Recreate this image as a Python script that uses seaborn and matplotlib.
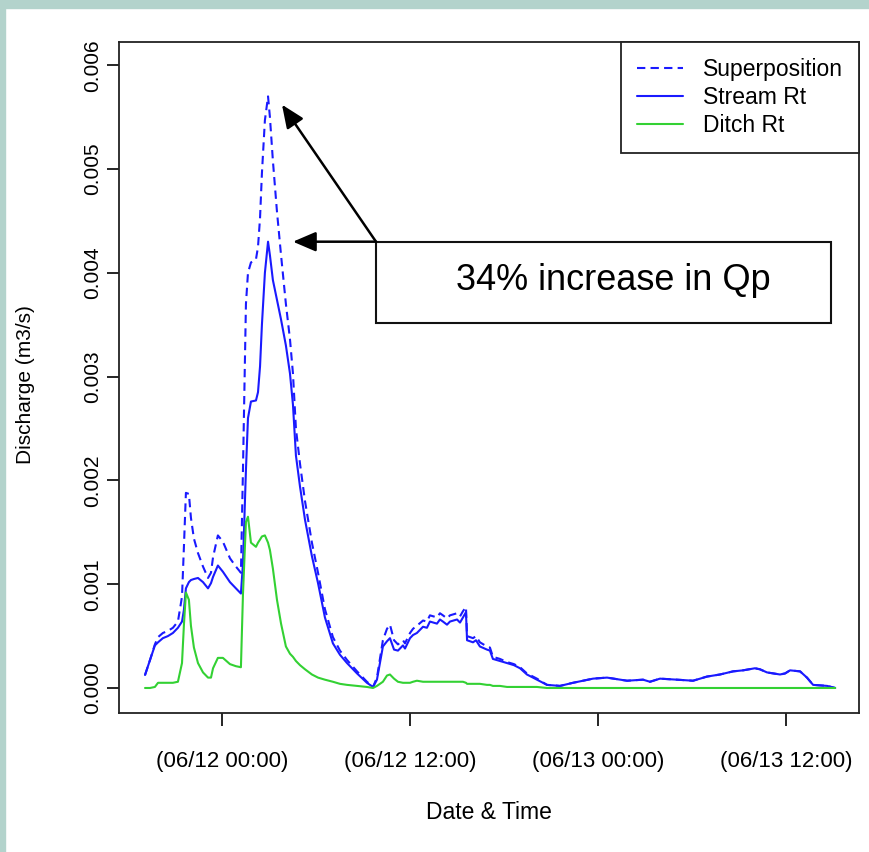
import numpy as np
import pandas as pd
import seaborn as sns
import matplotlib.pyplot as plt
from matplotlib.patches import Rectangle

# hours relative to 06/12 00:00
hours = [-4.91, -4.59, -4.28, -4.08, -3.77, -3.45, -3.13, -2.81, -2.55, -2.43,
         -2.30, -2.11, -1.98, -1.79, -1.53, -1.21, -0.89, -0.70, -0.57, -0.26,
         0.06, 0.51, 0.89, 1.21, 1.34, 1.53, 1.66, 1.85, 2.17, 2.30,
         2.43, 2.55, 2.74, 2.94, 3.06, 3.25, 3.51, 3.77, 4.08, 4.34,
         4.53, 4.72, 4.98, 5.30, 5.74, 6.13, 6.57, 7.08, 7.53, 7.98,
         8.62, 9.25, 9.64, 9.89, 10.08, 10.27, 10.53, 10.72, 10.98, 11.23,
         11.55, 11.68, 12.00, 12.19, 12.44, 12.83, 13.08, 13.27, 13.72, 13.91,
         14.10, 14.36, 14.55, 15.00, 15.19, 15.38, 15.57, 15.64, 16.02, 16.21,
         16.46, 16.91, 17.10, 17.29, 17.74, 18.19, 18.63, 19.02, 19.46, 20.10,
         20.74, 21.57, 22.40, 23.68, 24.57, 25.85, 26.87, 27.31, 27.95, 29.04,
         30.06, 30.51, 30.95, 31.78, 32.61, 33.25, 34.01, 34.33, 34.78, 35.61,
         35.93, 36.25, 36.89, 37.33, 37.72, 38.62, 39.13]

stream = [0.000125, 0.00027, 0.00041, 0.00044, 0.00048, 0.0005, 0.00053, 0.00058, 0.00064, 0.00075,
          0.00096, 0.00102, 0.00104, 0.00105, 0.00106, 0.00102, 0.00096, 0.00101, 0.00107, 0.00118,
          0.00112, 0.00102, 0.00096, 0.00091, 0.0012, 0.0021, 0.0026, 0.00276, 0.00277, 0.00285,
          0.0031, 0.0035, 0.0040, 0.0043, 0.00417, 0.00393, 0.00374, 0.00355, 0.0033, 0.00303,
          0.00273, 0.00224, 0.00194, 0.00162, 0.00127, 0.00101, 0.00068, 0.00043, 0.00032, 0.00024,
          0.00014, 0.00005, 0.00001, 0.00008, 0.00024, 0.0004, 0.00045, 0.00048, 0.00037, 0.00036,
          0.00041, 0.00038, 0.00048, 0.00051, 0.00053, 0.00059, 0.00058, 0.00064, 0.00062, 0.00066,
          0.00064, 0.00061, 0.00064, 0.00066, 0.00063, 0.00068, 0.00073, 0.00046, 0.00044, 0.00046,
          0.0004, 0.00037, 0.00036, 0.00028, 0.00026, 0.00024, 0.00022, 0.00019, 0.00013, 0.00008,
          0.00003, 0.00002, 0.00005, 0.00009, 0.0001, 0.00007, 0.00008, 0.00006, 0.00009, 0.00008,
          0.00007, 0.00009, 0.00011, 0.00013, 0.00016, 0.00017, 0.00019, 0.00018, 0.00015, 0.00013,
          0.00014, 0.00017, 0.00016, 0.0001, 0.00003, 0.00002, 0.0]

ditch = [0.0, 0.0, 0.00001, 0.00005, 0.00005, 0.00005, 0.00005, 0.00006, 0.00024, 0.0006,
         0.00092, 0.00085, 0.0006, 0.00039, 0.00024, 0.00015, 0.0001, 0.0001, 0.00019, 0.00029,
         0.00029, 0.00023, 0.00021, 0.0002, 0.0009, 0.0016, 0.00165, 0.0014, 0.00136, 0.0014,
         0.00143, 0.00146, 0.00147, 0.0014, 0.00133, 0.00115, 0.00085, 0.00062, 0.0004, 0.00033,
         0.0003, 0.00026, 0.00022, 0.00018, 0.00013, 0.0001, 0.00008, 0.00006, 0.00004, 0.00003,
         0.00002, 0.00001, 0.0, 0.00002, 0.00004, 0.00006, 0.00012, 0.00013, 0.00009, 0.00006,
         0.00005, 0.00005, 0.00005, 0.00006, 0.00007, 0.00006, 0.00006, 0.00006, 0.00006, 0.00006,
         0.00006, 0.00006, 0.00006, 0.00006, 0.00006, 0.00006, 0.00005, 0.00004, 0.00004, 0.00004,
         0.00004, 0.00003, 0.00003, 0.00002, 0.00002, 0.00001, 0.00001, 0.00001, 0.00001, 0.00001,
         0.0, 0.0, 0.0, 0.0, 0.0, 0.0, 0.0, 0.0, 0.0, 0.0,
         0.0, 0.0, 0.0, 0.0, 0.0, 0.0, 0.0, 0.0, 0.0, 0.0,
         0.0, 0.0, 0.0, 0.0, 0.0, 0.0, 0.0]

superposition = [0.000125, 0.00027, 0.00042, 0.00049, 0.00053, 0.00055, 0.00058, 0.00064, 0.00088, 0.00135,
                 0.00188, 0.00187, 0.00164, 0.00144, 0.0013, 0.00117, 0.00106, 0.00111, 0.00126, 0.00147,
                 0.00141, 0.00125, 0.00117, 0.00111, 0.0021, 0.0037, 0.0040, 0.0041, 0.00413, 0.00425,
                 0.00453, 0.00496, 0.00547, 0.0057, 0.0055, 0.00508, 0.00459, 0.00417, 0.0037, 0.00336,
                 0.00303, 0.0025, 0.00216, 0.0018, 0.0014, 0.00111, 0.00076, 0.00049, 0.00036, 0.00027,
                 0.00016, 0.00006, 0.00001, 0.0001, 0.00028, 0.00046, 0.00057, 0.00061, 0.00046, 0.00042,
                 0.00046, 0.00043, 0.00053, 0.00057, 0.0006, 0.00065, 0.00064, 0.0007, 0.00068, 0.00072,
                 0.0007, 0.00067, 0.0007, 0.00072, 0.00069, 0.00074, 0.00078, 0.0005, 0.00048, 0.0005,
                 0.00044, 0.0004, 0.00039, 0.0003, 0.00028, 0.00025, 0.00023, 0.0002, 0.00014, 0.00009,
                 0.00003, 0.00002, 0.00005, 0.00009, 0.0001, 0.00007, 0.00008, 0.00006, 0.00009, 0.00008,
                 0.00007, 0.00009, 0.00011, 0.00013, 0.00016, 0.00017, 0.00019, 0.00018, 0.00015, 0.00013,
                 0.00014, 0.00017, 0.00016, 0.0001, 0.00003, 0.00002, 0.0]

series_names = ["Superposition", "Stream Rt", "Ditch Rt"]
xtick_pos = [0, 12, 24, 36]
xtick_labels = ["(06/12 00:00)", "(06/12 12:00)", "(06/13 00:00)", "(06/13 12:00)"]
ytick_pos = [0.0, 0.001, 0.002, 0.003, 0.004, 0.005, 0.006]
ytick_labels = ["0.000", "0.001", "0.002", "0.003", "0.004", "0.005", "0.006"]

sns.set_style("white")
plt.rcParams['font.family'] = ['Liberation Sans', 'DejaVu Sans']
plt.rcParams['text.color'] = 'black'
plt.rcParams['axes.labelcolor'] = 'black'
plt.rcParams['xtick.color'] = 'black'
plt.rcParams['ytick.color'] = 'black'

fig = plt.figure(figsize=(8.7, 8.52), dpi=100)
# teal frame strips (top and left)
fig.patches.append(Rectangle((0, 1 - 8 / 852), 1, 8 / 852, transform=fig.transFigure,
                             color="#b3d3cc", zorder=0))
fig.patches.append(Rectangle((0, 0), 5 / 870, 1, transform=fig.transFigure,
                             color="#b3d3cc", zorder=0))

ax = fig.add_axes([119 / 870, 1 - 713 / 852, 740 / 870, 671 / 852])

df = pd.DataFrame({"hours": hours, "Superposition": superposition,
                   "Stream Rt": stream, "Ditch Rt": ditch})

sns.lineplot(data=df, x="hours", y="Superposition", ax=ax, color="#1a1aff",
             lw=1.5, label=series_names[0], estimator=None)
ax.lines[-1].set_dashes((4, 2.5))
sns.lineplot(data=df, x="hours", y="Stream Rt", ax=ax, color="#1a1aff",
             lw=1.5, label=series_names[1], estimator=None)
sns.lineplot(data=df, x="hours", y="Ditch Rt", ax=ax, color="#33d133",
             lw=1.5, label=series_names[2], estimator=None)

ax.set_xlim(-6.57, 40.65)
ax.set_ylim(-0.000241, 0.006224)
ax.set_xticks(xtick_pos)
ax.set_xticklabels(xtick_labels, fontsize=16)
ax.set_yticks(ytick_pos)
ax.set_yticklabels(ytick_labels, fontsize=15, rotation=90, va="center")
ax.tick_params(axis="x", bottom=True, direction="out", length=9, width=1.2, pad=18)
ax.tick_params(axis="y", left=True, direction="out", length=9, width=1.2, pad=3)
for s in ax.spines.values():
    s.set_color("#222222")
    s.set_linewidth(1.3)

ax.set_xlabel("Date & Time", fontsize=16.5)
ax.set_ylabel("Discharge (m3/s)", fontsize=15)
ax.xaxis.set_label_coords(0.5, -0.149)
ax.xaxis.label.set_verticalalignment("center")
ax.yaxis.set_label_coords(-0.127, 0.49)
ax.yaxis.label.set_verticalalignment("center")

leg = ax.legend(loc="upper right", borderaxespad=0, fontsize=16.5, frameon=True,
                fancybox=False, framealpha=1, edgecolor="#222222",
                handlelength=2.0, borderpad=0.7, labelspacing=0.22, handletextpad=0.87)
leg.get_frame().set_linewidth(1.3)

# annotation box and arrows
ax.add_patch(Rectangle((9.83, 0.00352), 29.03, 0.00078, fill=False,
                       edgecolor="#111111", lw=1.5, zorder=3))
ax.text(24.95, 0.00393, "34% increase in Qp", fontsize=26, ha="center", va="center")
arrow_kw = dict(arrowstyle="-|>,head_length=0.7,head_width=0.3", color="black",
                lw=1.8, shrinkA=0, shrinkB=0, mutation_scale=20)
ax.annotate("", xy=(3.83, 0.00562), xytext=(9.83, 0.0043), arrowprops=arrow_kw)
ax.annotate("", xy=(4.53, 0.0043), xytext=(9.83, 0.0043), arrowprops=arrow_kw)

fig.savefig("out.png", dpi=100)
